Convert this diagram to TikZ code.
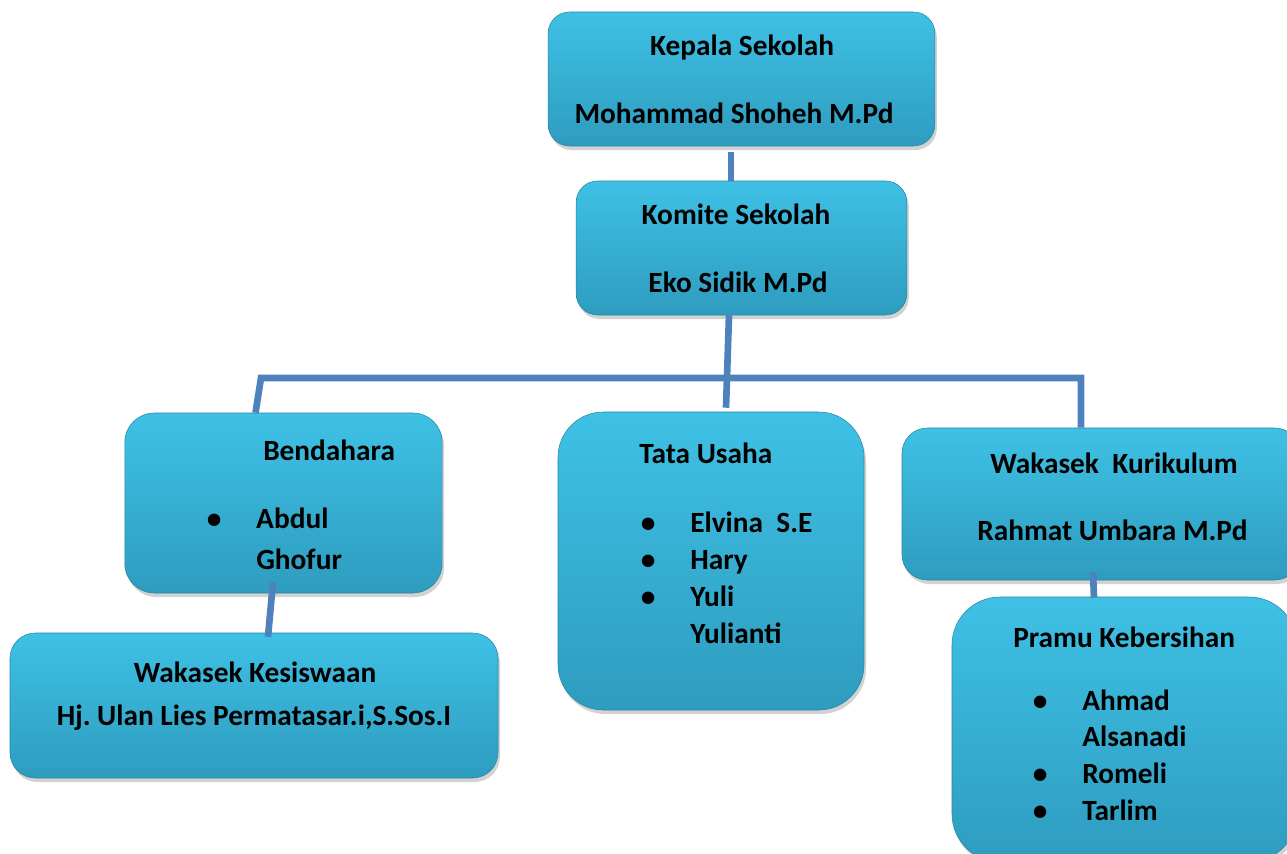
\documentclass[tikz,border=0pt]{standalone}
\usepackage{fontspec}
\setmainfont{Carlito}
\frenchspacing
\usetikzlibrary{shadows,calc}
\definecolor{boxtop}{RGB}{62,193,229}
\definecolor{boxbottom}{RGB}{46,156,191}
\definecolor{linkblue}{RGB}{79,129,189}
\tikzset{
  box/.style={rectangle, inner sep=0pt, top color=boxtop, bottom color=boxbottom,
    draw=boxbottom!85!black, line width=0.4pt,
    drop shadow={shadow xshift=1.5pt, shadow yshift=-3pt, opacity=0.35}},
  lbl/.style={font=\fontsize{22}{28}\selectfont\bfseries, inner sep=0pt},
  link/.style={draw=linkblue, line width=5pt},
}
\newcommand{\itm}{\makebox[0pt]{\textbullet}\hspace{31.5pt}}
\newcommand{\itmgap}{\hspace{31.5pt}}

\begin{document}
\begin{tikzpicture}[x=0.75pt, y=-0.75pt]
    \useasboundingbox[fill=white] (0,0) rectangle (1287,853);
    \clip (0,0) rectangle (1287,853);

    % Boxes
    \node[box, minimum width=290pt, minimum height=100.5pt, rounded corners=16pt] (kepala) at (741.5,79) {};
    \node[box, minimum width=248pt, minimum height=100.5pt, rounded corners=16pt] (komite) at (741.5,248) {};
    \node[box, minimum width=238pt, minimum height=135pt, rounded corners=22pt] (bendahara) at (283.5,503) {};
    \node[box, minimum width=229.5pt, minimum height=223.5pt, rounded corners=34pt] (tatausaha) at (711,561) {};
    \node[box, minimum width=298.5pt, minimum height=114pt, rounded corners=19pt] (kurikulum) at (1101,504) {};
    \node[box, minimum width=366pt, minimum height=108.75pt, rounded corners=19pt] (kesiswaan) at (254,705.5) {};
    \node[box, minimum width=258.75pt, minimum height=198.75pt, rounded corners=36pt] (pramu) at (1124.5,729.5) {};

    % Lines
    \coordinate (barL) at (261,378);
    \coordinate (barR) at (1081,378);
    \draw[link] ($(kepala.south)+(-10.5,6)$) -- ($(komite.north)+(-10.5,0)$);
    \draw[link] ($(komite.south)+(-12.5,0)$) -- ($(tatausaha.north)+(15,-4)$);
    \draw[link] ($(bendahara.north)+(-28,0)$) -- (barL) -- (barR) -- ($(kurikulum.north)+(-20,0)$);
    \draw[link] ($(bendahara.south)+(-10.5,-11)$) -- ($(kesiswaan.north)+(14,4)$);
    \draw[link] ($(kurikulum.south)+(-8,-8)$) -- ($(pramu.north)+(-30.5,1)$);

    % Texts
    \node[lbl, anchor=base] (kepalaT) at (742,55) {Kepala Sekolah};
    \node[lbl, anchor=base] (kepalaN) at (734,123) {Mohammad Shoheh M.Pd};
    \node[lbl, anchor=base] (komiteT) at (736,224) {Komite Sekolah};
    \node[lbl, anchor=base] (komiteN) at (738,292) {Eko Sidik M.Pd};

    \node[lbl, anchor=base west] (bendaharaT) at (263,460) {Bendahara};
    \node[lbl, anchor=base west, font=\fontsize{22}{30.75}\selectfont\bfseries] (bendaharaL) at (214,528)
        {\begin{tabular}[t]{@{}l@{}}\itm Abdul\\ \itmgap Ghofur\end{tabular}};

    \node[lbl, anchor=base west] (tatausahaT) at (639,463) {Tata Usaha};
    \node[lbl, anchor=base west, font=\fontsize{22}{27.75}\selectfont\bfseries] (tatausahaL) at (648,532)
        {\begin{tabular}[t]{@{}l@{}}\itm Elvina\ \ S.E\\ \itm Hary\\ \itm Yuli\\ \itmgap Yulianti\end{tabular}};

    \node[lbl, anchor=base west] (kurikulumT) at (990,473) {Wakasek\ \ Kurikulum};
    \node[lbl, anchor=base west] (kurikulumN) at (977,540) {Rahmat Umbara M.Pd};

    \node[lbl, anchor=base] (kesiswaanT) at (255,682) {Wakasek Kesiswaan};
    \node[lbl, anchor=base] (kesiswaanN) at (254,725) {Hj. Ulan Lies Permatasar.i,S.Sos.I};

    \node[lbl, anchor=base west] (pramuT) at (1013,647) {Pramu Kebersihan};
    \node[lbl, anchor=base west, font=\fontsize{22}{27.5}\selectfont\bfseries] (pramuL) at (1040,710)
        {\begin{tabular}[t]{@{}l@{}}\itm Ahmad\\ \itmgap Alsanadi\\ \itm Romeli\\ \itm Tarlim\end{tabular}};
\end{tikzpicture}
\end{document}
